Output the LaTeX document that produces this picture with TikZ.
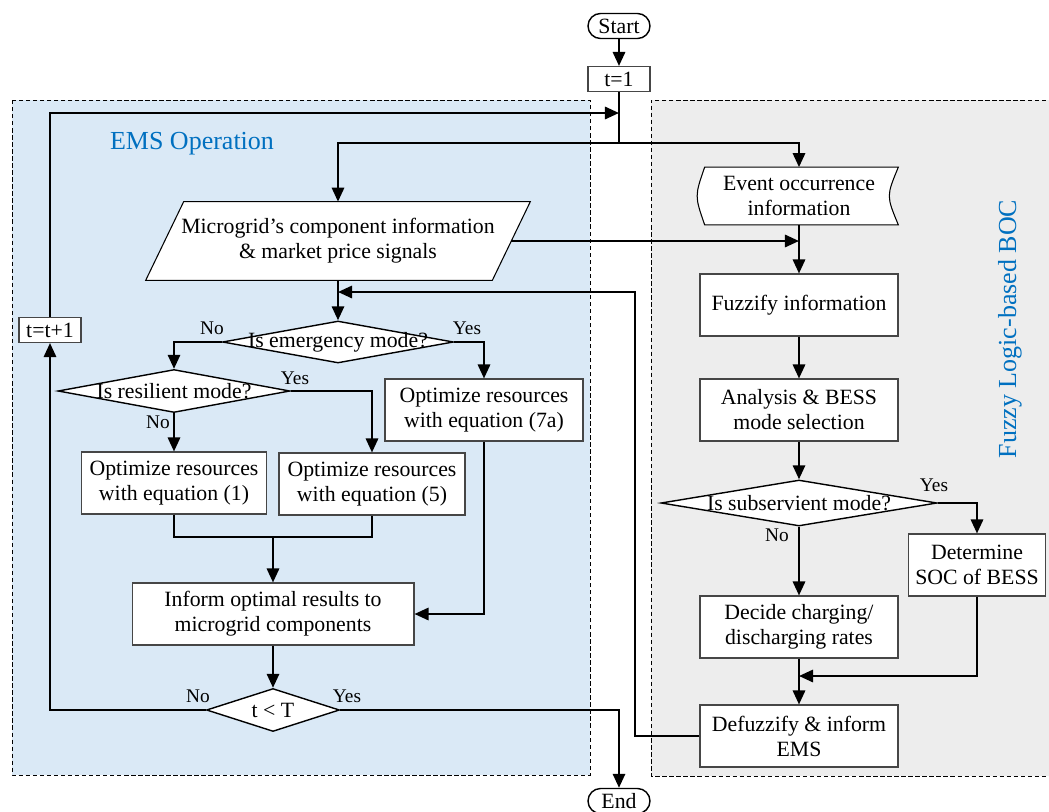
\documentclass[tikz,border=0pt]{standalone}
\usepackage{fontspec}
\setmainfont{Liberation Serif}
\usepackage{tikz}
\usetikzlibrary{shapes.geometric,arrows.meta,backgrounds}
\definecolor{emsfill}{RGB}{218,233,246}
\definecolor{bocfill}{RGB}{237,237,237}
\definecolor{titleblue}{RGB}{0,112,192}
\definecolor{boxgray}{RGB}{70,70,70}

\begin{document}
\begin{tikzpicture}[x=0.02cm, y=-0.02cm, font=\fontsize{12.4}{14.2}\selectfont,
		process/.style={draw=boxgray, fill=white, line width=0.6pt, align=center, inner sep=1pt, minimum height=1.24cm},
		decision/.style={diamond, draw=black, fill=white, line width=0.8pt, inner sep=0pt},
		terminal/.style={draw=black, fill=white, line width=0.8pt, rounded corners=0.25cm, minimum width=1.24cm, minimum height=0.5cm, inner sep=0pt},
		flow/.style={line width=1.3pt},
		arr/.style={flow, -{Triangle[length=8pt,width=7pt]}},
		answer/.style={font=\fontsize{11}{13}\selectfont, inner sep=0pt},
		panel/.style={dash pattern=on 2.5pt off 1.5pt, line width=0.5pt},
		title/.style={text=titleblue, font=\fontsize{14.8}{17}\selectfont}]

		\useasboundingbox (0,0) rectangle (1049,812);

		% panels
		\begin{scope}[on background layer]
			\fill[emsfill] (12,100) rectangle (590,775);
			\draw[panel] (12,100) rectangle (590,775);
			\fill[bocfill] (651,100) rectangle (1060,776);
			\draw[panel] (1060,100) -- (651,100) -- (651,776) -- (1060,776);
		\end{scope}

		\node[title] (emstitle) at (192,144) {EMS Operation};
		\node[title, rotate=90] (boctitle) at (1010,329) {Fuzzy Logic-based BOC};

		% start and counter
		\node[terminal] (start) at (619,26) {Start};
		\node[process, minimum width=1.24cm, minimum height=0.5cm] (tone) at (619,79) {t=1};
		\node[process, minimum width=1.24cm, minimum height=0.5cm] (tnext) at (50,330) {t=t+1};
		\coordinate (split) at (619,143);
		\coordinate (loopin) at (619,113);

		% EMS side
		\node[align=center, inner sep=0pt, minimum width=6.92cm, minimum height=1.56cm] (info) at (338,241) {Microgrid’s component information\\\& market price signals};
		\begin{scope}[on background layer]
			\draw[draw=black, fill=white, line width=0.6pt] ([xshift=0.38cm]info.north west) -- ([xshift=0.38cm]info.north east) -- ([xshift=-0.38cm]info.south east) -- ([xshift=-0.38cm]info.south west) -- cycle;
		\end{scope}
		\node[decision, minimum width=4.62cm, minimum height=0.84cm] (emerg) at (338,342) {\makebox[0pt]{Is emergency mode?}};
		\node[decision, minimum width=4.64cm, minimum height=0.86cm] (resil) at (174,391) {\makebox[0pt]{Is resilient mode?}};
		\node[process, minimum width=3.96cm] (opt7a) at (484,410) {Optimize resources\\with equation (7a)};
		\node[process, minimum width=3.7cm] (opt1) at (174,483) {Optimize resources\\with equation (1)};
		\node[process, minimum width=3.72cm] (opt5) at (372,484) {Optimize resources\\with equation (5)};
		\node[process, minimum width=5.64cm] (inform) at (273,614) {Inform optimal results to\\microgrid components};
		\node[decision, minimum width=2.66cm, minimum height=0.86cm] (tcheck) at (273,710) {\makebox[0pt]{t < T}};
		\node[terminal] (stop) at (619,801) {End};
		\coordinate (join) at (273,537);
		\coordinate (backin) at (338,292);
		\coordinate (backx) at (635,292);

		% BOC side
		\node[minimum width=3.96cm, minimum height=1.14cm, align=center, inner sep=0pt] (event) at (799,196) {Event occurrence\\information};
		\begin{scope}[on background layer]
			\draw[draw=black, line width=0.6pt, fill=white] ([xshift=0.1cm]event.north west) -- (event.north east) .. controls ([xshift=-0.24cm]event.east) .. (event.south east) -- ([xshift=0.1cm]event.south west) .. controls ([xshift=-0.1cm]event.west) .. cycle;
		\end{scope}
		\node[process, minimum width=3.96cm] (fuzzify) at (799,305) {Fuzzify information};
		\node[process, minimum width=3.96cm] (analysis) at (799,410) {Analysis \& BESS\\mode selection};
		\node[decision, minimum width=5.52cm, minimum height=0.92cm] (subserv) at (799,503) {\makebox[0pt]{Is subservient mode?}};
		\node[process, minimum width=2.74cm] (soc) at (977,565) {Determine\\SOC of BESS};
		\node[process, minimum width=3.96cm] (decide) at (799,627) {Decide charging/\\discharging rates};
		\node[process, minimum width=3.96cm] (defuzz) at (799,736) {Defuzzify \& inform\\EMS};
		\coordinate (merge) at (799,676);

		% answers
		\node[answer] (noemerg) at (212,328) {No};
		\node[answer] (yesemerg) at (467,328) {Yes};
		\node[answer] (yesresil) at (295,378) {Yes};
		\node[answer] (noresil) at (158,422) {No};
		\node[answer] (nocheck) at (198,696) {No};
		\node[answer] (yescheck) at (347,696) {Yes};
		\node[answer] (yessub) at (934,485) {Yes};
		\node[answer] (nosub) at (777,535) {No};

		% connectors
		\draw[arr] (start) -- (tone);
		\draw[flow] (tone) -- (split);
		\draw[arr] (split) -| (event.north);
		\draw[arr] (split) -| (info.north);
		\draw[arr] (tnext.north) |- (loopin);
		\draw[arr] (info.south) -- (emerg.north);
		\draw[arr] (info.east) -- (info.east -| event.south);
		\draw[arr] (emerg.west) -| (resil.north);
		\draw[arr] (emerg.east) -| (opt7a.north);
		\draw[arr] (resil.south) -- (opt1.north);
		\draw[arr] (resil.east) -| (opt5.north);
		\draw[flow] (opt1.south) |- (join) -| (opt5.south);
		\draw[arr] (join) -- (inform.north);
		\draw[arr] (opt7a.south) |- (inform.east);
		\draw[arr] (inform.south) -- (tcheck.north);
		\draw[arr] (tcheck.west) -| (tnext.south);
		\draw[arr] (tcheck.east) -| (stop.north);

		\draw[arr] (event.south) -- (fuzzify.north);
		\draw[arr] (fuzzify) -- (analysis);
		\draw[arr] (analysis.south) -- (subserv.north);
		\draw[arr] (subserv.south) -- (decide.north);
		\draw[arr] (subserv.east) -| (soc.north);
		\draw[arr] (decide) -- (defuzz);
		\draw[arr] (soc.south) |- (merge);
		\draw[arr] (defuzz.west) -| (backx) -- (backin);
	\end{tikzpicture}
\end{document}
